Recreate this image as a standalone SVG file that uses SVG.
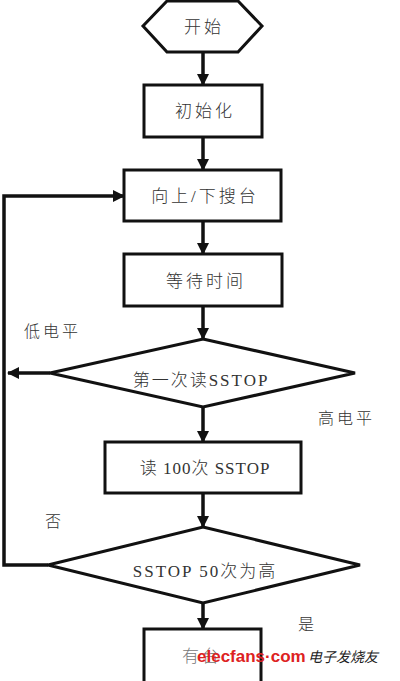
<svg xmlns="http://www.w3.org/2000/svg" width="400" height="681" viewBox="0 0 400 681">
<defs>
<marker id="ah" markerWidth="12" markerHeight="12" refX="11" refY="6" orient="auto" markerUnits="userSpaceOnUse">
<path d="M0,0 L12,6 L0,12 Z" fill="#111"/>
</marker>
<style>
.s{fill:#fff;stroke:#111;stroke-width:3}
.t{font-family:"Liberation Serif","Noto Sans CJK SC",serif;font-size:17px;font-weight:300;fill:#333;text-anchor:middle;dominant-baseline:central;letter-spacing:3px}
.l{font-family:"Liberation Serif","Noto Sans CJK SC",serif;font-size:16px;font-weight:300;fill:#333;letter-spacing:3px;dominant-baseline:central}
.c{fill:none;stroke:#111;stroke-width:3.5}
</style>
</defs>
<rect width="400" height="681" fill="#fff"/>
<g id="connectors">
<line class="c" x1="203" y1="52" x2="203" y2="85" marker-end="url(#ah)"/>
<line class="c" x1="203" y1="137" x2="203" y2="170" marker-end="url(#ah)"/>
<line class="c" x1="203" y1="221" x2="203" y2="254" marker-end="url(#ah)"/>
<line class="c" x1="203" y1="306" x2="203" y2="339" marker-end="url(#ah)"/>
<line class="c" x1="203" y1="407" x2="203" y2="442" marker-end="url(#ah)"/>
<line class="c" x1="203" y1="493" x2="203" y2="527" marker-end="url(#ah)"/>
<line class="c" x1="203" y1="603" x2="203" y2="629" marker-end="url(#ah)"/>
<line class="c" x1="50" y1="373" x2="8" y2="373" marker-end="url(#ah)"/>
<polyline class="c" points="48,565 4,565 4,196 124,196" marker-end="url(#ah)"/>
</g>
<g id="start">
<polygon class="s" points="167,1 238,1 262,26 238,52 167,52 143,26"/>
<text class="t" x="204" y="27">开始</text>
</g>
<g id="init">
<rect class="s" x="144" y="85" width="118" height="52"/>
<text class="t" x="205" y="111">初始化</text>
</g>
<g id="search">
<rect class="s" x="124" y="170" width="157" height="51"/>
<text class="t" x="205" y="196">向上/下搜台</text>
</g>
<g id="wait">
<rect class="s" x="124" y="254" width="158" height="52"/>
<text class="t" x="206" y="281">等待时间</text>
</g>
<g id="read1">
<polygon class="s" points="203,339 355,373 203,407 50,373"/>
<text class="t" x="201" y="380" style="letter-spacing:2px">第一次读SSTOP</text>
</g>
<g id="read100">
<rect class="s" x="105" y="442" width="196" height="51"/>
<text class="t" x="205" y="468" style="letter-spacing:1px">读 100次 SSTOP</text>
</g>
<g id="check50">
<polygon class="s" points="203,527 360,565 203,603 48,565"/>
<text class="t" x="205" y="571" style="letter-spacing:2px">SSTOP 50次为高</text>
</g>
<g id="found">
<rect class="s" x="144" y="629" width="117" height="60"/>
<text class="t" x="202" y="656" style="fill:#777">有台</text>
</g>
<g id="labels">
<text class="l" x="24" y="331">低电平</text>
<text class="l" x="318" y="418">高电平</text>
<text class="l" x="45" y="521">否</text>
<text class="l" x="298" y="624">是</text>
</g>
<g id="watermark">
<text x="197" y="662" style="font-family:'Liberation Sans',sans-serif;font-size:17px;font-weight:bold;fill:#d22">elecfans·com</text>
<text x="308" y="662" style="font-family:'Noto Sans CJK SC',sans-serif;font-size:14px;font-style:italic;fill:#222">电子发烧友</text>
</g>
</svg>
